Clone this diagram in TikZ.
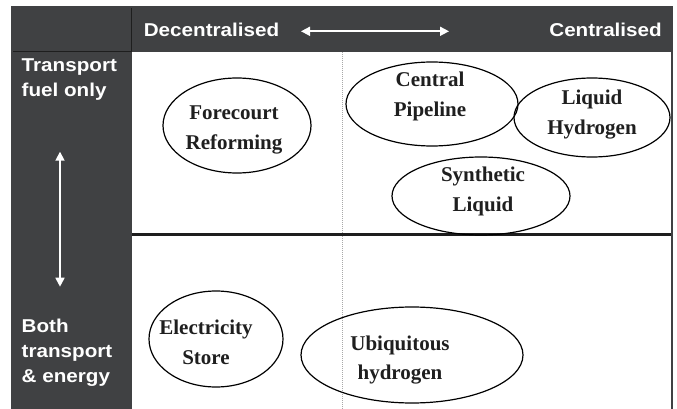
\documentclass[tikz,border=0pt]{standalone}
\usepackage{fontspec}
\setmainfont{Liberation Serif}[BoldFont={Liberation Serif Bold}]
\newfontfamily\headsans{Liberation Sans Bold}[FakeStretch=1.11]
\usetikzlibrary{shapes.geometric,arrows.meta}
\definecolor{framegrey}{HTML}{404143}
\definecolor{rulegrey}{HTML}{1E1E1E}
\definecolor{dotgrey}{HTML}{A8A8A8}
\tikzset{
  option/.style={draw=black, ellipse, line width=1.2pt, inner sep=0pt},
  optext/.style={font=\bfseries\fontsize{21}{29.5}\selectfont, align=center, text=black!88, inner sep=0pt},
  headtext/.style={text=white, font=\headsans\fontsize{18.6}{25}\selectfont, inner sep=0pt, align=left},
  whitearrow/.style={white, line width=1.7pt, {Triangle[length=9pt,width=9pt]}-{Triangle[length=9pt,width=9pt]}}
}
\begin{document}
\begin{tikzpicture}[x=1pt,y=-1pt]
\useasboundingbox (0,0) rectangle (677,409);
% dark frame with the white chart area
\fill[framegrey] (11,6) rectangle (673,409);
\fill[white] (132,52) rectangle (671,409);
\draw[rulegrey, line width=0.8pt] (13,51) -- (132,51);
\draw[rulegrey, line width=0.8pt] (131.5,8) -- (131.5,52);
% dotted split between decentralised and centralised
\draw[dotgrey, line width=1pt, dash pattern=on 1pt off 1pt] (342,52) -- (342,409);
% split between transport-only and transport+energy
\draw[rulegrey, line width=3pt] (132,234) -- (671,234);

% header
\node[headtext, anchor=base west] (dec) at (143.6,36.7) {Decentralised};
\node[headtext, anchor=base east] (cen) at (662,36.7) {Centralised};
\coordinate (hl) at (301,31.3);
\coordinate (hr) at (449,31.3);
\draw[whitearrow] (hl) -- (hr);

% side column (base anchor sits on the last line)
\node[headtext, anchor=base west] (top) at (21.5,96.7) {Transport\\fuel only};
\node[headtext, anchor=base west] (bot) at (21.5,382.7) {Both\\transport\\\& energy};
\coordinate (vt) at (60,151.7);
\coordinate (vb) at (60,286.7);
\draw[whitearrow] (vt) -- (vb);

% options
\node[option, minimum width=148pt, minimum height=95pt] (fr) at (237,125.5) {};
\node[optext] (frt) at (234,130) {Forecourt\\Reforming};
\node[option, minimum width=172pt, minimum height=84pt] (cp) at (432,104) {};
\node[optext] (cpt) at (430,96.5) {Central\\Pipeline};
\node[option, minimum width=156pt, minimum height=79pt] (lh) at (592,117.5) {};
\node[optext] (lht) at (592,114.5) {Liquid\\Hydrogen};
\node[option, minimum width=178pt, minimum height=78pt] (sl) at (481,196) {};
\node[optext] (slt) at (483,191.5) {Synthetic\\Liquid};
\node[option, minimum width=134pt, minimum height=96pt] (es) at (216,339) {};
\node[optext] (est) at (206,342.5) {Electricity\\Store};
\node[option, minimum width=222pt, minimum height=96pt] (uh) at (412,355) {};
\node[optext] (uht) at (400,360) {Ubiquitous\\hydrogen};
\end{tikzpicture}
\end{document}
